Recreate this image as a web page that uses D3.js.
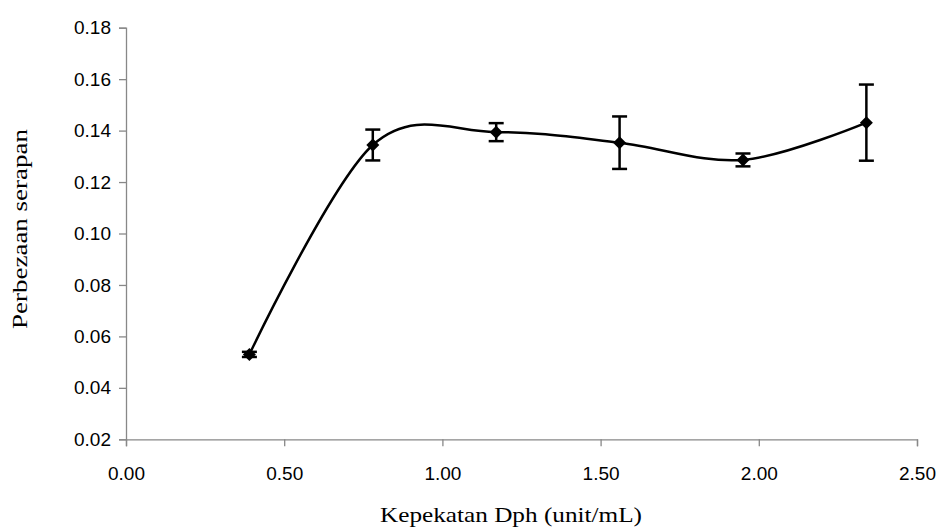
<!DOCTYPE html>
<html><head><meta charset="utf-8">
<script src="https://cdn.jsdelivr.net/npm/d3@7"></script>
<style>body{margin:0;background:#fff;}</style>
</head><body>
<script>
const concentration = [0.39, 0.78, 1.17, 1.56, 1.95, 2.34];
const absorbanceDiff = [0.053, 0.1344, 0.1394, 0.1353, 0.1286, 0.1431];
const errorValues = [0.001, 0.006, 0.0035, 0.0102, 0.0025, 0.0148];
const xTicks = [0, 0.5, 1.0, 1.5, 2.0, 2.5];
const yTicks = [0.02, 0.04, 0.06, 0.08, 0.10, 0.12, 0.14, 0.16, 0.18];

const W = 943, H = 527;
const svg = d3.select("body").append("svg").attr("width", W).attr("height", H);
const x = d3.scaleLinear().domain([0, 2.5]).range([126, 917]);
const y = d3.scaleLinear().domain([0.02, 0.18]).range([439.3, 27.7]);

const axisColor = "#888";
const xa = svg.append("g").attr("transform", `translate(0,${y(0.02)})`)
  .call(d3.axisBottom(x).tickValues(xTicks).tickFormat(d3.format(".2f")).tickSize(7).tickPadding(20));
const ya = svg.append("g").attr("transform", `translate(${x(0)},0)`)
  .call(d3.axisLeft(y).tickValues(yTicks).tickFormat(d3.format(".2f")).tickSize(7).tickPadding(8));
[xa, ya].forEach(g => {
  g.select(".domain").attr("stroke", axisColor).attr("stroke-width", 1.3);
  g.selectAll(".tick line").attr("stroke", axisColor).attr("stroke-width", 1.3);
  g.selectAll(".tick text").attr("fill", "#000").style("font-family", "'Liberation Sans', Arial, sans-serif").style("font-size", "19px");
});

const pts = concentration.map((c, i) => ({x: c, y: absorbanceDiff[i], e: errorValues[i]}));

svg.append("path").datum(pts)
  .attr("d", d3.line().x(d => x(d.x)).y(d => y(d.y)).curve(d3.curveCardinal.tension(0)))
  .attr("fill", "none").attr("stroke", "#000").attr("stroke-width", 2.5);

const eb = svg.append("g");
pts.forEach(d => {
  const cx = x(d.x), y1 = y(d.y + d.e), y2 = y(d.y - d.e);
  eb.append("line").attr("x1", cx).attr("x2", cx).attr("y1", y1).attr("y2", y2).attr("stroke", "#000").attr("stroke-width", 2.5);
  [y1, y2].forEach(yy => eb.append("line").attr("x1", cx - 7.5).attr("x2", cx + 7.5).attr("y1", yy).attr("y2", yy).attr("stroke", "#000").attr("stroke-width", 2.5));
});

svg.append("g").selectAll("path").data(pts).join("path")
  .attr("transform", d => `translate(${x(d.x)},${y(d.y)})`)
  .attr("d", "M0,-6.5L6.5,0L0,6.5L-6.5,0Z").attr("fill", "#000");

svg.append("text").attr("x", 511).attr("y", 522).attr("text-anchor", "middle")
  .attr("textLength", 262).attr("lengthAdjust", "spacingAndGlyphs")
  .style("font-family", "'Liberation Serif', 'Times New Roman', serif").style("font-size", "21px")
  .text("Kepekatan Dph (unit/mL)");
svg.append("text").attr("transform", "translate(27,229) rotate(-90)").attr("text-anchor", "middle")
  .attr("textLength", 200).attr("lengthAdjust", "spacingAndGlyphs")
  .style("font-family", "'Liberation Serif', 'Times New Roman', serif").style("font-size", "21px")
  .text("Perbezaan serapan");
</script>
</body></html>
